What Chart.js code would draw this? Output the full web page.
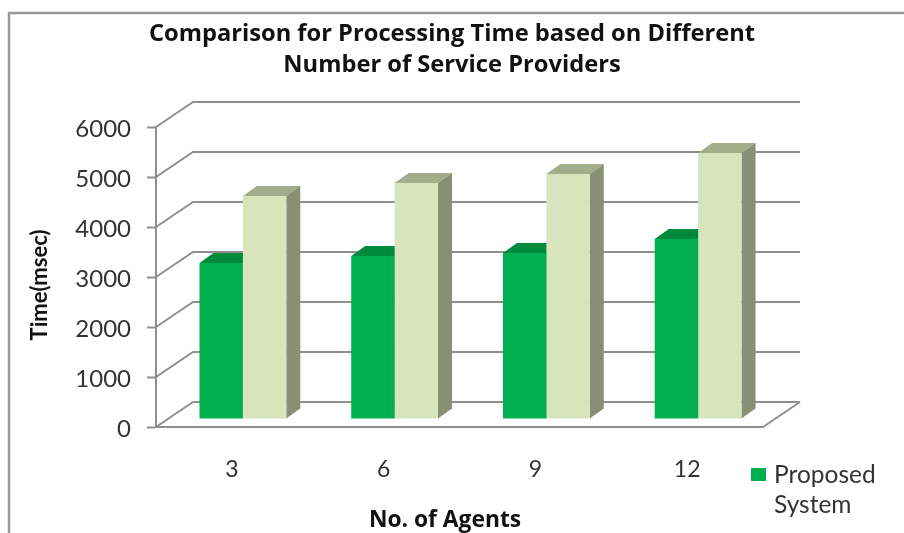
<!DOCTYPE html>
<html>
<head>
<meta charset="utf-8">
<script src="https://cdn.jsdelivr.net/npm/chart.js@4"></script>
<style>
  html, body { margin: 0; background: #fff; }
  canvas { display: block; filter: blur(0.7px); }
</style>
</head>
<body>
<canvas id="ch" width="904" height="533"></canvas>
<script>
const categories = ['3', '6', '9', '12'];
const proposed = [3120, 3260, 3320, 3600];
const other = [4460, 4720, 4900, 5320];
const yTicks = [0, 1000, 2000, 3000, 4000, 5000, 6000];
const titleLines = ['Comparison for Processing Time based on Different', 'Number of Service Providers'];

const FONT = 'Lato, "Open Sans", sans-serif';
const HEAD = '"Open Sans", Lato, sans-serif';
const GRID = '#8f8f8f';
const WALL = { dx: 37, dy: -25 };   // back wall offset
const SHIFT = { dx: 11, dy: -8 };   // bars stand inside the floor
const BAR = { dx: 14, dy: -10 };    // bar depth

function poly(ctx, pts, fill) {
  ctx.beginPath();
  pts.forEach((p, i) => i ? ctx.lineTo(p[0], p[1]) : ctx.moveTo(p[0], p[1]));
  ctx.closePath();
  ctx.fillStyle = fill;
  ctx.fill();
}

/* fake 3D: walls, bar sides, frame, legend */
const fake3d = {
  id: 'fake3d',
  afterLayout(chart) {
    // title centres on the whole page, not the padded box
    chart.titleBlock.left = 0;
    chart.titleBlock.right = chart.width;
  },
  beforeDraw(chart) {
    const ctx = chart.ctx;
    ctx.save();
    ctx.strokeStyle = '#9a9a9a';
    ctx.lineWidth = 2.5;
    ctx.beginPath();
    ctx.moveTo(9, chart.height);
    ctx.lineTo(9, 13);
    ctx.lineTo(chart.width, 13);
    ctx.stroke();
    ctx.restore();
  },
  beforeDatasetsDraw(chart) {
    const { ctx, scales: { x, y } } = chart;
    ctx.save();
    ctx.strokeStyle = GRID;
    ctx.lineWidth = 2;
    yTicks.forEach(v => {
      const py = y.getPixelForValue(v);
      ctx.beginPath();
      ctx.moveTo(x.left, py);
      ctx.lineTo(x.left + WALL.dx, py + WALL.dy);
      ctx.lineTo(x.right + WALL.dx, py + WALL.dy);
      ctx.stroke();
    });
    const by = y.getPixelForValue(0);
    ctx.beginPath();
    ctx.moveTo(x.right, by);
    ctx.lineTo(x.right + WALL.dx, by + WALL.dy);
    ctx.stroke();
    ctx.restore();

    const sides = [['#018a3c', '#01793a'], ['#a3ad8c', '#888f74']];
    ctx.save();
    ctx.translate(SHIFT.dx, SHIFT.dy);
    chart.data.datasets.forEach((ds, i) => {
      chart.getDatasetMeta(i).data.forEach(bar => {
        const l = bar.x - bar.width / 2, r = bar.x + bar.width / 2;
        poly(ctx, [[l, bar.y], [r, bar.y], [r + BAR.dx, bar.y + BAR.dy], [l + BAR.dx, bar.y + BAR.dy]], sides[i][0]);
        poly(ctx, [[r, bar.y], [r + BAR.dx, bar.y + BAR.dy], [r + BAR.dx, bar.base + BAR.dy], [r, bar.base]], sides[i][1]);
      });
    });
    // library draws the front faces on the same shift
  },
  afterDatasetsDraw(chart) {
    chart.ctx.restore();
  },
  afterDraw(chart) {
    const ctx = chart.ctx;
    ctx.save();
    ctx.fillStyle = chart.data.datasets[0].backgroundColor;
    ctx.fillRect(751, 468, 15, 13);
    ctx.fillStyle = '#333';
    ctx.font = '24.5px ' + FONT;
    ctx.textBaseline = 'middle';
    ctx.fillText('Proposed', 774, 475);
    ctx.fillText('System', 774, 505);
    ctx.fillStyle = '#111';
    ctx.font = 'bold 22.8px ' + HEAD;
    ctx.textAlign = 'center';
    ctx.fillText('No. of Agents', 445, 521);
    ctx.translate(40, 285);
    ctx.rotate(-Math.PI / 2);
    ctx.font = 'bold 22px ' + FONT;
    ctx.fillText('Time(msec)', 0, 0);
    ctx.restore();
  }
};

new Chart(document.getElementById('ch').getContext('2d'), {
  type: 'bar',
  data: {
    labels: categories,
    datasets: [
      { label: 'Proposed System', data: proposed, backgroundColor: '#00ae4f', categoryPercentage: 0.572, barPercentage: 1, borderWidth: 0 },
      { label: 'Other', data: other, backgroundColor: '#d8e4bc', categoryPercentage: 0.572, barPercentage: 1, borderWidth: 0 }
    ]
  },
  options: {
    responsive: false,
    animation: false,
    layout: { padding: { left: 20, right: 141, top: 0, bottom: 0 } },
    plugins: {
      legend: { display: false },
      tooltip: { enabled: false },
      title: {
        display: true,
        text: titleLines,
        color: '#111',
        font: { family: HEAD, size: 23.7, weight: 'bold', lineHeight: '31px' },
        padding: { top: 18.5, bottom: 46.5 }
      }
    },
    scales: {
      x: {
        afterFit: s => { s.height = 106; },
        grid: { display: true, drawOnChartArea: false, drawTicks: false },
        border: { color: GRID, width: 2 },
        ticks: { color: '#333', padding: 29, font: { family: FONT, size: 23 } }
      },
      y: {
        min: 0,
        max: 6000,
        afterFit: s => { s.width = 136; },
        afterBuildTicks: s => { s.ticks = yTicks.map(v => ({ value: v })); },
        grid: { drawOnChartArea: false, tickLength: 9, tickColor: GRID, tickWidth: 2 },
        border: { color: GRID, width: 2 },
        ticks: { color: '#333', padding: 16, labelOffset: 2, font: { family: FONT, size: 24 }, callback: v => String(v) }
      }
    }
  },
  plugins: [fake3d]
});
</script>
</body>
</html>
